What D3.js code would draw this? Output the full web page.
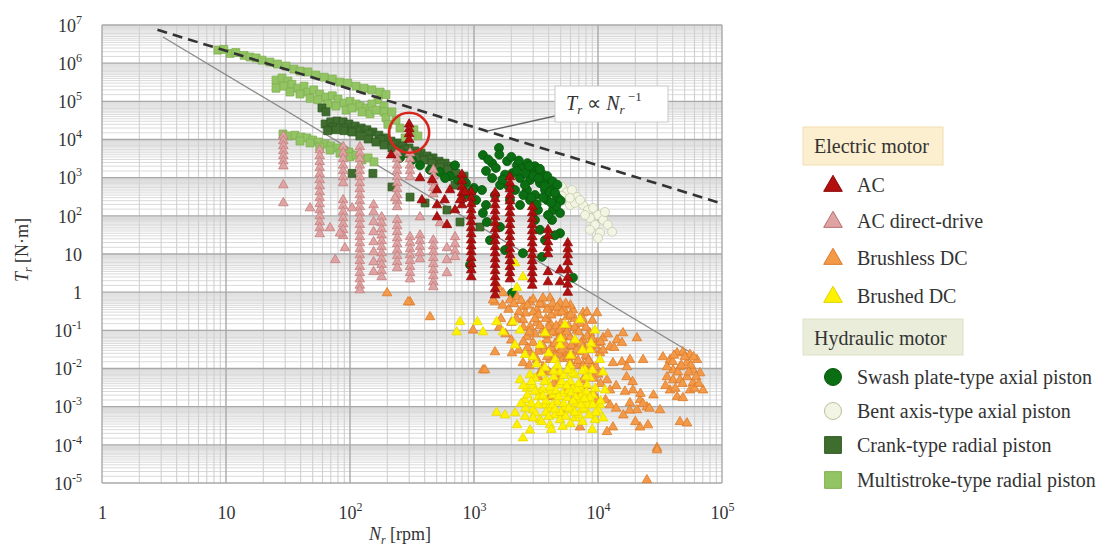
<!DOCTYPE html>
<html><head><meta charset="utf-8">
<script src="https://cdn.jsdelivr.net/npm/d3@7"></script>
<style>
body{margin:0;background:#fff}
svg{display:block}
text{font-family:"Liberation Serif","Times New Roman",serif;fill:#333}
</style>
</head><body>
<svg id="chart" width="1100" height="549"></svg>
<script>
// Rated torque vs rated speed of electric and hydraulic motors (log-log)

const xTicks = [1, 10, 100, 1e3, 1e4, 1e5];
const yTicks = [1e-5, 1e-4, 1e-3, 1e-2, 1e-1, 1, 10, 100, 1e3, 1e4, 1e5, 1e6, 1e7];

// Reference trend lines [rpm, N·m]
const inverseLine = [[2.8, 7.5e6], [1e5, 210]];      // T ∝ N^-1 (dashed)
const steepLine = [[3.1, 4.85e6], [5.5e4, 0.027]];   // lower envelope (solid)
const highlight = [300, 1.5e4];

// ---- Hydraulic motors: [rpm, N·m] ----
const multistrokeRadial = [
  [8.6,2.2e6],[9.6,2.3e6],[10.8,1.8e6],[12,1.9e6],[14,1.6e6],[15.6,1.45e6],[17.5,1.37e6],[19.5,1.2e6],
  [22.6,1.07e6],[26,9.5e5],[30.5,8.4e5],[35.3,7.0e5],[39.5,6.2e5],[45.8,5.9e5],[53,4.9e5],[62,4.3e5],
  [72,3.85e5],[83,3.2e5],[96,3.0e5],[112,2.5e5],[130,2.2e5],[150,2.0e5],[175,1.75e5],[195,1.5e5],
  [168,1.1e5],[188,7.5e4],[188,5.3e4],[195,3.7e4],[202,2.5e4],
  [25.3,3.6e5],[28.3,4.1e5],[31.6,3.4e5],[25.3,2.2e5],[29.4,2.5e5],[34,2.8e5],[38,2.2e5],[42.6,2.5e5],
  [32.8,1.75e5],[39.5,1.55e5],[45.8,1.75e5],[51,2.0e5],[57,1.55e5],[47.6,1.2e5],[55,1.1e5],[64,1.3e5],
  [72,1.4e5],[80,1.15e5],[66,8.5e4],[77,7.5e4],[89.5,9.0e4],[100,1.0e5],[112,8.5e4],[93,5.9e4],
  [104,6.7e4],[120,7.5e4],[135,6.7e4],[150,8.5e4],[125,5.3e4],[145,4.7e4],[162,5.9e4],
  [28.8,1.4e4],[32.2,1.24e4],[36,1.3e4],[40.3,1.16e4],[45,1.1e4],[50,9.7e3],[56,8.6e3],[63,7.6e3],
  [70,6.8e3],[78.5,6.0e3],[88,5.3e3],[98,4.7e3],[39.5,9.1e3],[47.6,8.1e3],[57,6.4e3],[69,5.3e3],
  [83,4.4e3],[100,3.5e3],[112,3.9e3],[125,2.9e3],[140,3.3e3],[156,2.6e3],
  [253,2.0e4],[278,1.1e4],[328,1.8e4],[353,1.24e4],[235,3.2e4],[218,5.3e4]
];

const crankRadial = [
  [59.4,6.7e4],[64,5.3e4],[63,2.55e4],[70,2.9e4],[78.5,3.05e4],[88,2.9e4],[98,2.55e4],[110,2.25e4],
  [123,2.0e4],[137,1.8e4],[153,1.57e4],[171,1.3e4],[192,1.1e4],[214,9.1e3],[239,8.1e3],[267,6.8e3],
  [299,6.0e3],[334,5.0e3],[374,4.4e3],[418,3.7e3],[467,3.3e3],[522,2.7e3],[584,2.4e3],[653,2.0e3],
  [73,2.1e4],[91,2.0e4],[114,1.7e4],[142,1.4e4],[178,1.0e4],[222,7.6e3],[278,5.6e3],[347,4.2e3],
  [434,3.1e3],[542,2.3e3],[677,1.7e3],
  [66,1.7e4],[77,1.8e4],[89.5,1.7e4],[104,1.57e4],[120,1.24e4],[140,1.03e4],[162,8.6e3],[188,7.2e3],
  [218,6.0e3],[253,5.0e3],[294,4.2e3],[340,3.3e3],[395,2.9e3],[458,2.4e3],[532,1.9e3],[617,1.6e3],
  [716,1.3e3],[830,1.1e3],
  [104,1.3e3],[153,1.3e3],[218,570],[305,310],[403,217],[605,142],[771,69],[1117,51],[703,640],[929,420]
];

const bentAxis = [
  [5120,570],[5620,420],[6170,475],[6770,310],[5420,260],[5940,192],[6530,217],[5120,330],[7570,192],
  [8300,142],[9120,160],[10000,105],[11000,78],[8610,88],[9460,58],[10370,36],[7860,105],[11380,126],
  [7160,260],[12000,58],[13000,38],[10000,26],[8610,43],[5940,294]
];

const swashPlate = [
  [253,3.3e3],[316,2.9e3],[367,2.1e3],[442,1.6e3],[532,1.4e3],[640,1.1e3],[743,870],[861,720],[1000,540],
  [1160,475],[1040,260],[1250,192],[846,350],[703,2.1e3],[584,980],[1180,3.9e3],[1590,6.0e3],[1400,2.4e3],
  [1400,980],[1850,2.7e3],[2220,2.1e3],[2030,1.3e3],[2480,1.9e3],[2990,1.6e3],[2830,870],[3405,720],
  [3880,870],[4340,540],[4670,310],[3880,260],[4340,142],[4940,119],[4260,78],[4940,35],[3405,43],
  [3530,8.4],[2480,10.5],[980,475],[1180,119],[1270,69],[1622,51],[6280,2.4],[2030,0.95],[1778,1.2e3],
  [2350,980],[2670,475],[3105,350],[3740,475],[2830,260],[3280,142],[3950,105],[2578,640],[2143,475],
  [4500,31],[3740,23],[3105,78],[2350,192],[1950,260],[1622,640],[1476,350],[1346,23],[1778,12.7],[929,5.2],
  [1300,3000],[1600,4000],[2000,3500],[2300,2800],[2700,2400],[3100,2000],[3500,1300],[3900,1100],
  [4300,800],[4700,650],[2600,1300],[3000,1100],[3300,950],[3700,600],[4100,420],[4500,400],[5000,250],
  [4600,180],[4200,220],[3600,300],[3200,200],[2900,300],[2500,350],[1900,600],[1700,900],[2200,1500],
  [2800,2000],[3400,1700],[1250,1500],[1500,1800]
];

// ---- Electric motors ----
// Stacked ratings of one speed: [rpm, [N·m, ...]]
const acColumns = [
  [950, [420,294,205,142,99,69,48,33.5,23,16,11.3,7.9,5.5,3.8,2.5]],
  [1480, [400,277,192,134,93,65,45,31,22,15.3,10.6,7.4,5.2,3.6,2.5,1.74,1.21,0.84]],
  [1950, [1040,725,505,350,245,171,119,83,58,40,28,19.4,13.5,9.4,6.6,4.6,3.2,2.2]],
  [2950, [171,119,83,58,40,28,19.4,13.5,9.4,6.6,4.6,3.2,2.2,1.5]],
  [3950, [43,30,20.6,14.4,10,3.4,1.85]],
  [5700, [19.4,13.5,9.4,6.2,3.8,2.4,1.6,0.98]],
  [4940, [3.8,1.85]],
  [300, [2.5e4,1.9e4,1.4e4,1.0e4]],
  [800, [1200,820,570,400,277,192]]
];
const acScattered = [
  [215,3.9e3],[367,980],[503,475],[503,192],[503,93],[580,260],[771,260],[846,420],[380,260],
  [460,870],[640,475],[703,142],[605,58]
];

const acDirectColumns = [
  [29, [1.24e4,9.1e3,6.8e3,5.0e3,3.7e3,2.7e3,2.0e3,640,217]],
  [57, [5.3e3,3.7e3,2.6e3,1.8e3,1.25e3,870,605,420,294,205,142,99,69,48,33.5]],
  [88, [6.4e3,4.4e3,3.1e3,2.1e3,1.5e3,1.04e3,725,260,181,126,88,61,43,30]],
  [120, [6.4e3,4.4e3,3.1e3,2.1e3,1.5e3,1.04e3,725,505,350,245,171,119,83,58,40,28,19.4,13.5,9.4,6.6,4.6,3.2,2.2,1.5,1.14]],
  [180, [93,65,45,31,22,15.3,10.6,7.4,5.2,3.6,2.5]],
  [155, [192,126,69,38,20.6,11.3,6.2,3.4]],
  [240, [4.4e3,3.1e3,2.1e3,1.5e3,1.04e3,725,505,350,245,171,78,54,38,26,18.3,12.7,8.9,6.2,4.3]],
  [305, [4.4e3,3.1e3,2.1e3,1.5e3,1.04e3,28,19.4,13.5,9.4,6.6,4.6,3.2,2.2]],
  [367, [31,22,15.3,10.6,7.4]],
  [470, [1.6e3,1.1e3,770,540,373,23,16,11.3,7.9,5.5,3.8,2.65,1.85,1.37]],
  [605, [14.4,7.0,3.2]],
  [703, [28,18.3,12,8.4]]
];
const acDirectScattered = [
  [47.6,160],[69,48],[83,35],[104,160],[231,294],[367,93],[532,65],[91,14.4],[76,7]
];

const brushlessDC = [
  [1563,1.37],[1714,0.95],[1950,0.62],[2222,0.75],[2484,0.41],[2830,0.55],[3220,0.34],[3600,0.46],
  [4100,0.70],[4670,0.285],[4940,0.52],[5620,0.224],[6280,0.34],[1476,0.55],[7570,0.285],[8150,0.30],
  [9810,0.285],
  [2484,0.19],[2830,0.122],[3220,0.156],[3600,0.10],[4100,0.156],[4670,0.085],[5220,0.115],[5940,0.067],
  [6770,0.10],[7570,0.056],[8610,0.085],[9810,0.047],[10970,0.063],[12500,0.037],[14200,0.056],
  [15900,0.085],[15600,0.047],[20600,0.063],[2675,0.067],[2990,0.047],[3405,0.037],[3880,0.056],
  [4340,0.031],[4940,0.047],[5620,0.0255],[6280,0.037],[7160,0.027],[8150,0.020],[9120,0.031],
  [10370,0.0255],[3220,0.017],[3600,0.011],[4100,0.017],[4670,0.0103],[2830,0.0255],[2484,0.014],
  [1476,0.027],[2024,0.0255],[1183,0.0091],[982,0.10],
  [4670,0.005],[5940,0.0033],[7570,0.005],[9120,0.0023],[6280,0.0015],[5220,0.00068],[11820,0.005],
  [13200,0.00029],[11820,0.00022],[7160,0.00029],[9810,0.0015],[4100,0.0018],[12500,0.0027],
  [13200,0.014],[15600,0.0148],[18100,0.017],[23100,0.017],[17100,0.011],[19100,0.0027],[21800,0.0015],
  [24800,0.00098],[18100,0.00125],[20600,0.00082],[31600,0.00082],[21800,0.00029],[25300,0.00033],
  [45800,0.0004],[52200,0.00037],[29900,8.3e-5],
  [33400,0.02],[38100,0.017],[43400,0.0255],[48400,0.027],[55200,0.023],[52200,0.014],[45800,0.011],
  [40300,0.0091],[58300,0.0091],[66500,0.0076],[36000,0.006],[40300,0.005],[45800,0.005],[52200,0.006],
  [58300,0.0042],[70300,0.0027],[38100,0.0027],[43400,0.0018],[48400,0.0017],[36000,0.011],
  [55200,0.0027],[62800,0.017],
  [40000,0.015],[50000,0.02],[44000,0.008],[56000,0.012],[62000,0.006],[48000,0.004],[54000,0.008],
  [60000,0.003],[42000,0.003],[35000,0.0035],[65000,0.004],[47000,0.012],[59000,0.02],[41000,0.022],
  [14000,0.0035],[16500,0.0025],[19000,0.0045],[22000,0.0022],[18000,0.0008],[23000,0.0012],
  [26000,0.0009],[20000,0.0004],[28000,0.002],[17000,0.006],
  [24800,1.2e-5],[29900,7.3e-5],[1227,0.0091],[442,0.224],[305,0.55],[199,0.95],[294,0.55],[1423,0.62],
  [3000,0.3],[3800,0.2],[4400,0.4],[5000,0.15],[5800,0.13],[6500,0.2],[7200,0.15],[8000,0.12],[9000,0.18],
  [2600,0.28],[3400,0.5],[4200,0.25],[5300,0.35],[6000,0.45],[2300,0.3],[2000,0.16],[3100,0.08],
  [3900,0.075],[4800,0.06],[5500,0.04],[6600,0.05],[7800,0.035],[9500,0.04],[11000,0.03],[3700,0.03],
  [4500,0.022],[5200,0.018],[6000,0.014],[4000,0.008],[5000,0.007],[6000,0.009],[7000,0.012],
  [8500,0.009],[3300,0.006],[4400,0.004],[5500,0.0028],[6800,0.0022],[8000,0.0035],[10000,0.007],
  [2800,0.012],[3500,0.009],
  [1700,0.45],[1900,0.35],[2100,0.5],[2400,0.6],[2700,0.45],[3000,0.65],[3300,0.25],[3600,0.7],
  [3900,0.35],[4300,0.5],[4700,0.4],[5100,0.3],[5500,0.5],[6000,0.25],[6500,0.12],[7000,0.09],
  [7500,0.2],[8200,0.07],[9000,0.06],[10500,0.05],[12000,0.08],[13500,0.035],[2200,0.2],[2500,0.12],
  [2800,0.09],[3100,0.2],[3400,0.13],[3700,0.08],[4000,0.12],[4300,0.09],[4600,0.13],[4900,0.1],
  [5200,0.07],[5600,0.09],[6100,0.04],[6700,0.03],[7300,0.045],[8000,0.022],[8800,0.013],[9600,0.011],
  [2700,0.035],[3000,0.02],[3300,0.028],[3600,0.04],[3900,0.02],[4200,0.035],[4500,0.045],[4800,0.025],
  [5100,0.03],[5700,0.02],[6300,0.02],[6900,0.016],[7600,0.012],[8400,0.016],[9200,0.0055],
  [10500,0.004],[11500,0.0015],[12500,0.0011],[14000,0.0009],[16000,0.0006],[2500,0.05],[2300,0.03],
  [2000,0.055],[1800,0.08],[1650,0.2],[1600,0.12]
];

const brushedDC = [
  [771,0.166],[725,0.09],[1065,0.166],[1183,0.09],[1520,0.166],[1714,0.09],[2060,0.166],[2350,0.10],
  [3740,0.085],[4940,0.041],[6530,0.056],[8610,0.031],[4500,0.017],[5940,0.012],[7860,0.0091],
  [3405,0.041],[2578,0.023],[10370,0.017],[5420,0.14],[7160,0.19],[9460,0.10],[2143,0.041],
  [2143,5.8],[2484,2.5],[2222,1.3],
  [2350,0.005],[2675,0.003],[3105,0.0055],[3405,0.0024],[3880,0.0046],[4340,0.002],[4940,0.0037],
  [5620,0.0017],[6280,0.003],[7160,0.0015],[8150,0.0037],[9120,0.002],[10370,0.0011],[11380,0.0027],
  [2578,0.0015],[2990,0.00082],[3740,0.0011],[4500,0.0006],[5420,0.00095],[6530,0.0005],[7860,0.00082],
  [9460,0.00045],[4100,0.00033],[4940,0.00045],[3405,0.00045],[2830,0.0068],[3740,0.0104],[4940,0.008],
  [6530,0.0068],[8610,0.0057],[10970,0.008],
  [1520,0.0007],[1778,0.0006],[2143,0.00068],[2578,0.00055],[3105,0.00068],[2484,0.00015],
  [2830,0.00024],[2222,0.00033],
  [3000,0.0035],[3600,0.0028],[4200,0.0025],[4700,0.0013],[5200,0.0022],[5800,0.0026],[6600,0.0012],
  [7400,0.0021],[8800,0.0013],[3300,0.0018],[4000,0.0009],[5000,0.0007],[6200,0.0008],[7000,0.0006],
  [8200,0.0011],[2900,0.0012],[3800,0.0014],[10000,0.0008],[9500,0.003],[4400,0.006],[3500,0.0075],
  [6000,0.0045],[2700,0.002],
  [2600,0.0009],[3100,0.0025],[3600,0.0019],[4100,0.0032],[4600,0.0026],[5100,0.0045],[5600,0.0035],
  [6100,0.0023],[6600,0.0018],[7100,0.0032],[7600,0.0009],[8100,0.0024],[8600,0.0017],[9100,0.0011],
  [9600,0.0007],[3300,0.0011],[3800,0.0007],[4300,0.0011],[4800,0.0018],[5300,0.0012],[5800,0.0009],
  [6300,0.0014],[6800,0.0028],[7300,0.0011],[7800,0.0016],[3000,0.0005],[3500,0.0004],[4000,0.00055],
  [4500,0.00085],[5500,0.00055],[6500,0.0007],[7500,0.0004],[8500,0.0006],[9000,0.00025],[4200,0.00025],
  [5200,0.0003],[6000,0.00035],[3700,0.0045],[4400,0.0085],[5300,0.0065],[6200,0.0075],[7000,0.004],
  [8000,0.006],[2900,0.0045],[3200,0.013],[4700,0.012],[5700,0.009],[7500,0.0085],[9000,0.009],
  [2500,0.0035],[2400,0.0012],[10500,0.0014],[11000,0.0005],[3000,0.02],[4000,0.025],[6000,0.022],
  [7500,0.03],[8800,0.045],[5000,0.06]
];

const legendElectric = ["AC", "AC direct-drive", "Brushless DC", "Brushed DC"];
const legendHydraulic = ["Swash plate-type axial piston", "Bent axis-type axial piston",
  "Crank-type radial piston", "Multistroke-type radial piston"];

// ---- helpers ----
const fromColumns = cols => cols.flatMap(([n, ts]) => ts.map(t => [n, t]));
const acPoints = fromColumns(acColumns).concat(acScattered);
const acDirectPoints = fromColumns(acDirectColumns).concat(acDirectScattered);

const svg = d3.select("#chart");
const x = d3.scaleLog().domain([1, 1e5]).range([102, 722]);
const y = d3.scaleLog().domain([1e-5, 1e7]).range([483, 25]);

// grid: minor lines at whole and half steps inside each decade
const minorVals = (lo, hi, steps) => {
  const out = [];
  for (let e = lo; e < hi; e++) steps.forEach(k => out.push(k * Math.pow(10, e)));
  return out;
};
const hSteps = [1.5, 2, 2.5, 3, 3.5, 4, 4.5, 5, 5.5, 6, 6.5, 7, 7.5, 8, 8.5, 9, 9.5];
const vSteps = [2, 3, 4, 5, 6, 7, 8, 9];
const grid = svg.append("g");
grid.selectAll("line.hminor").data(minorVals(-5, 7, hSteps)).join("line")
  .attr("x1", 102).attr("x2", 722).attr("y1", d => y(d)).attr("y2", d => y(d))
  .attr("stroke", "#d6d6d6").attr("stroke-width", 0.9);
grid.selectAll("line.vminor").data(minorVals(0, 5, vSteps)).join("line")
  .attr("y1", 25).attr("y2", 483).attr("x1", d => x(d)).attr("x2", d => x(d))
  .attr("stroke", "#d0d0d0").attr("stroke-width", 1.1);
grid.selectAll("line.hmajor").data(yTicks).join("line")
  .attr("x1", 102).attr("x2", 722).attr("y1", d => y(d)).attr("y2", d => y(d))
  .attr("stroke", "#a8a8a8").attr("stroke-width", 1.4);
grid.selectAll("line.vmajor").data(xTicks).join("line")
  .attr("y1", 25).attr("y2", 483).attr("x1", d => x(d)).attr("x2", d => x(d))
  .attr("stroke", "#a8a8a8").attr("stroke-width", 1.4);

// axes with power-of-ten labels
function powLabel(sel) {
  sel.each(function (d) {
    const t = d3.select(this).text("");
    const e = Math.round(Math.log10(d));
    if (e === 0) t.text("1");
    else if (e === 1) t.text("10");
    else {
      t.append("tspan").text("10");
      t.append("tspan").attr("dy", -8).attr("font-size", 12).text(e < 0 ? "-" + (-e) : e);
    }
  });
}
const yAxis = svg.append("g").attr("transform", "translate(102,0)")
  .call(d3.axisLeft(y).tickValues(yTicks).tickSize(0).tickPadding(20));
yAxis.select(".domain").remove();
yAxis.selectAll(".tick text").attr("font-size", 18).attr("font-family", "Liberation Serif")
  .attr("fill", "#333").attr("dy", "0.35em").call(powLabel);

const xAxis = svg.append("g").attr("transform", "translate(0,483)")
  .call(d3.axisBottom(x).tickValues(xTicks).tickSize(0).tickPadding(20));
xAxis.select(".domain").remove();
xAxis.selectAll(".tick text").attr("font-size", 18).attr("font-family", "Liberation Serif")
  .attr("fill", "#333").attr("dy", "0.9em").call(powLabel);

// axis titles
const xt = svg.append("text").attr("x", 400).attr("y", 540).attr("text-anchor", "middle").attr("font-size", 18);
xt.append("tspan").attr("font-style", "italic").text("N");
xt.append("tspan").attr("font-style", "italic").attr("font-size", 12).attr("dy", 4).text("r");
xt.append("tspan").attr("dy", -4).text(" [rpm]");
const yt = svg.append("text").attr("transform", "translate(28,250) rotate(-90)").attr("text-anchor", "middle").attr("font-size", 18);
yt.append("tspan").attr("font-style", "italic").text("T");
yt.append("tspan").attr("font-style", "italic").attr("font-size", 12).attr("dy", 4).text("r");
yt.append("tspan").attr("dy", -4).text(" [N·m]");

// trend lines
const line = d3.line().x(d => x(d[0])).y(d => y(d[1]));
svg.append("path").attr("d", line(steepLine)).attr("fill", "none").attr("stroke", "#8a8a8a").attr("stroke-width", 1.3);

// markers
const triPath = d3.symbol().type(d3.symbolTriangle).size(40)();
const sqPath = d3.symbol().type(d3.symbolSquare).size(62)();
function drawSeries(data, path, fill, stroke) {
  svg.append("g").selectAll("path").data(data).join("path")
    .attr("d", path).attr("transform", d => `translate(${x(d[0])},${y(d[1])})`)
    .attr("fill", fill).attr("stroke", stroke).attr("stroke-width", 0.8);
}
function drawCircles(data, fill, stroke) {
  svg.append("g").selectAll("circle").data(data).join("circle")
    .attr("cx", d => x(d[0])).attr("cy", d => y(d[1])).attr("r", 4.5)
    .attr("fill", fill).attr("stroke", stroke).attr("stroke-width", 0.8);
}
drawSeries(multistrokeRadial, sqPath, "#93c464", "#80b052");
drawSeries(crankRadial, sqPath, "#3f6d2e", "#2f5a22");
drawCircles(bentAxis, "#f3f5e4", "#c5cbaa");
drawCircles(swashPlate, "#0b6e12", "#07580d");
drawSeries(brushlessDC, triPath, "#f39a48", "#dc7a2a");
drawSeries(brushedDC, triPath, "#fff200", "#e6d800");
drawSeries(acDirectPoints, triPath, "#e0a3a3", "#c27c7c");
drawSeries(acPoints, triPath, "#b30f0f", "#8c0a0a");

svg.append("path").attr("d", line(inverseLine)).attr("fill", "none").attr("stroke", "#333")
  .attr("stroke-width", 2.6).attr("stroke-dasharray", "10,6");

// highlighted rating
svg.append("circle").attr("cx", x(highlight[0])).attr("cy", y(highlight[1])).attr("r", 20)
  .attr("fill", "none").attr("stroke", "#d9261c").attr("stroke-width", 2.6);

// annotation
svg.append("line").attr("x1", 555).attr("y1", 116).attr("x2", x(1270)).attr("y2", y(2.1e7 / 1270))
  .attr("stroke", "#666").attr("stroke-width", 1.3);
svg.append("rect").attr("x", 555).attr("y", 86).attr("width", 113).attr("height", 36)
  .attr("fill", "#fff").attr("stroke", "#c8c8c8");
const at = svg.append("text").attr("x", 566).attr("y", 110).attr("font-size", 20);
at.append("tspan").attr("font-style", "italic").text("T");
at.append("tspan").attr("font-style", "italic").attr("font-size", 13).attr("dy", 4).text("r");
at.append("tspan").attr("dy", -4).text(" ∝ ");
at.append("tspan").attr("font-style", "italic").text("N");
at.append("tspan").attr("font-style", "italic").attr("font-size", 13).attr("dy", 4).text("r");
at.append("tspan").attr("font-size", 13).attr("dy", -13).text(" −1");

// legend
const lg = svg.append("g");
lg.append("rect").attr("x", 803).attr("y", 127).attr("width", 140).attr("height", 38)
  .attr("fill", "#fcefcf").attr("stroke", "#f2deb0");
lg.append("text").attr("x", 814).attr("y", 153).attr("font-size", 20).text("Electric motor");
lg.append("rect").attr("x", 803).attr("y", 319).attr("width", 160).attr("height", 36)
  .attr("fill", "#e9edd9").attr("stroke", "#dce1c8");
lg.append("text").attr("x", 814).attr("y", 345).attr("font-size", 20).text("Hydraulic motor");

const legTri = d3.symbol().type(d3.symbolTriangle).size(150)();
const legSq = d3.symbol().type(d3.symbolSquare).size(280)();
const elecStyles = [["#b30f0f", "#8c0a0a"], ["#e0a3a3", "#b77070"], ["#f39a48", "#dc7a2a"], ["#fff200", "#e0d200"]];
const elecY = [185, 221, 258, 296];
legendElectric.forEach((name, i) => {
  lg.append("path").attr("d", legTri).attr("transform", `translate(833,${elecY[i] + 1})`)
    .attr("fill", elecStyles[i][0]).attr("stroke", elecStyles[i][1]);
  lg.append("text").attr("x", 857).attr("y", elecY[i] + 7).attr("font-size", 20).text(name);
});
const hydY = [377, 411, 445, 480];
legendHydraulic.forEach((name, i) => {
  if (i === 0) lg.append("circle").attr("cx", 833).attr("cy", hydY[i]).attr("r", 8.5).attr("fill", "#0b6e12").attr("stroke", "#07580d");
  if (i === 1) lg.append("circle").attr("cx", 833).attr("cy", hydY[i]).attr("r", 8.5).attr("fill", "#f3f5e4").attr("stroke", "#b9bf9c");
  if (i === 2) lg.append("path").attr("d", legSq).attr("transform", `translate(833,${hydY[i]})`).attr("fill", "#3f6d2e").attr("stroke", "#2f5a22");
  if (i === 3) lg.append("path").attr("d", legSq).attr("transform", `translate(833,${hydY[i]})`).attr("fill", "#93c464").attr("stroke", "#80b052");
  lg.append("text").attr("x", 857).attr("y", hydY[i] + 7).attr("font-size", 20).text(name);
});
</script>
</body></html>
